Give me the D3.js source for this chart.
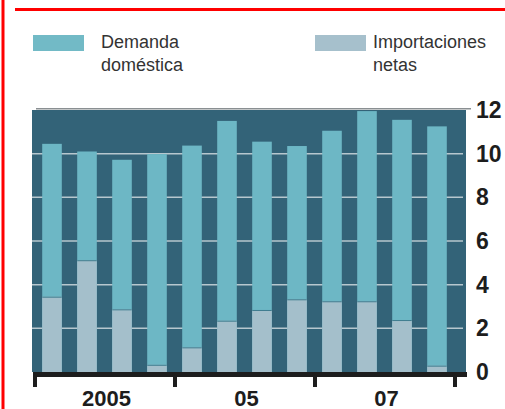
<!DOCTYPE html>
<html>
<head>
<meta charset="utf-8">
<script src="https://cdn.jsdelivr.net/npm/d3@7"></script>
<style>
  body { margin: 0; background: #fff; }
  svg { display: block; font-family: "Liberation Sans", Arial, sans-serif; }
</style>
</head>
<body>
<div id="chart"></div>
<script>
// quarterly values, 2005 Q1 .. 2007 Q4
const quarters = ["2005T1", "2005T2", "2005T3", "2005T4",
                  "2006T1", "2006T2", "2006T3", "2006T4",
                  "2007T1", "2007T2", "2007T3", "2007T4"];
const demanda = [10.45, 10.1, 9.72, 9.98, 10.37, 11.5, 10.55, 10.35, 11.05, 11.95, 11.55, 11.25];
const importaciones = [3.45, 5.12, 2.87, 0.33, 1.13, 2.35, 2.84, 3.33, 3.24, 3.24, 2.38, 0.29];
const yearLabels = ["2005", "05", "07"];
const yTicks = [0, 2, 4, 6, 8, 10, 12];

const width = 505, height = 409;
const plot = {left: 32, right: 466, top: 110, bottom: 372};

const svg = d3.select("#chart")
    .append("svg")
    .attr("width", width)
    .attr("height", height);

// red frame
svg.append("line")
    .attr("x1", 3).attr("x2", 3)
    .attr("y1", 0).attr("y2", height)
    .attr("stroke", "#f00").attr("stroke-width", 3);
svg.append("line")
    .attr("x1", 15).attr("x2", width)
    .attr("y1", 9.5).attr("y2", 9.5)
    .attr("stroke", "#f00").attr("stroke-width", 3);

// legend
const legend = [
    {x: 33, tx: 101, color: "#72bac6", lines: ["Demanda", "doméstica"]},
    {x: 315, tx: 373, color: "#a6c0cc", lines: ["Importaciones", "netas"]}
];
legend.forEach(function (d) {
    svg.append("rect")
        .attr("x", d.x).attr("y", 35)
        .attr("width", 51).attr("height", 16)
        .attr("fill", d.color);
    svg.append("text")
        .attr("y", 48)
        .attr("font-size", 18)
        .attr("fill", "#333")
        .selectAll("tspan")
        .data(d.lines)
        .join("tspan")
        .attr("x", d.tx)
        .attr("dy", function (t, i) { return i === 0 ? 0 : 22.5; })
        .text(function (t) { return t; });
});

let x = d3.scaleBand()
    .domain(quarters)
    .range([34.5, 454.5])
    .paddingInner(0.44)
    .paddingOuter(0.22);

let years = d3.scaleBand()
    .domain(yearLabels)
    .range([34.5, 454.5]);

let y = d3.scaleLinear()
    .domain([0, 12])
    .range([plot.bottom, plot.top]);

// background
svg.append("rect")
    .attr("x", plot.left).attr("y", plot.top)
    .attr("width", plot.right - plot.left)
    .attr("height", plot.bottom - plot.top)
    .attr("fill", "#336378");
svg.append("line")
    .attr("x1", 36).attr("x2", 471)
    .attr("y1", 108.8).attr("y2", 108.8)
    .attr("stroke", "#8a8f92").attr("stroke-width", 1.5);

// gridlines
svg.append("g")
    .selectAll("line")
    .data(yTicks.filter(function (d) { return d > 0 && d < 12; }))
    .join("line")
    .attr("x1", plot.left).attr("x2", 463)
    .attr("y1", function (d) { return y(d); })
    .attr("y2", function (d) { return y(d); })
    .attr("stroke", "#b7c7ce").attr("stroke-width", 1.5);

// bars
svg.append("g")
    .selectAll("rect")
    .data(demanda)
    .join("rect")
    .attr("x", function (d, i) { return x(quarters[i]); })
    .attr("y", function (d) { return y(d); })
    .attr("width", x.bandwidth())
    .attr("height", function (d) { return y(0) - y(d); })
    .attr("fill", "#6db7c5");

svg.append("g")
    .selectAll("rect")
    .data(importaciones)
    .join("rect")
    .attr("x", function (d, i) { return x(quarters[i]); })
    .attr("y", function (d) { return y(d); })
    .attr("width", x.bandwidth())
    .attr("height", function (d) { return y(0) - y(d); })
    .attr("fill", "#a4bfcb");

svg.append("g")
    .selectAll("line")
    .data(importaciones)
    .join("line")
    .attr("x1", function (d, i) { return x(quarters[i]); })
    .attr("x2", function (d, i) { return x(quarters[i]) + x.bandwidth(); })
    .attr("y1", function (d) { return y(d) + 0.5; })
    .attr("y2", function (d) { return y(d) + 0.5; })
    .attr("stroke", "#3f7d8f").attr("stroke-width", 1);

// x axis
svg.append("rect")
    .attr("x", 33).attr("y", plot.bottom)
    .attr("width", 434).attr("height", 5)
    .attr("fill", "#1d1d1d");
const boundaries = yearLabels.map(function (d) { return years(d); }).concat([years.range()[1]]);
svg.append("g")
    .selectAll("rect")
    .data(boundaries)
    .join("rect")
    .attr("x", function (d) { return d - 1.5; })
    .attr("y", plot.bottom)
    .attr("width", 4).attr("height", 15)
    .attr("fill", "#1d1d1d");
svg.append("g")
    .selectAll("text")
    .data(yearLabels)
    .join("text")
    .attr("x", function (d) { return years(d) + years.bandwidth() / 2 + 2; })
    .attr("y", 406)
    .attr("text-anchor", "middle")
    .attr("font-size", 22)
    .attr("font-weight", "bold")
    .attr("fill", "#1d1d1d")
    .text(function (d) { return d; });

// y axis on the right
const yAxis = svg.append("g")
    .attr("transform", `translate(${plot.right},0)`)
    .call(d3.axisRight(y).tickValues(yTicks).tickSize(0).tickPadding(10));
yAxis.select(".domain").remove();
yAxis.selectAll("text")
    .attr("font-size", 23)
    .attr("font-weight", "bold")
    .attr("font-family", "Liberation Sans, Arial, sans-serif")
    .attr("fill", "#1d1d1d");
</script>
</body>
</html>
